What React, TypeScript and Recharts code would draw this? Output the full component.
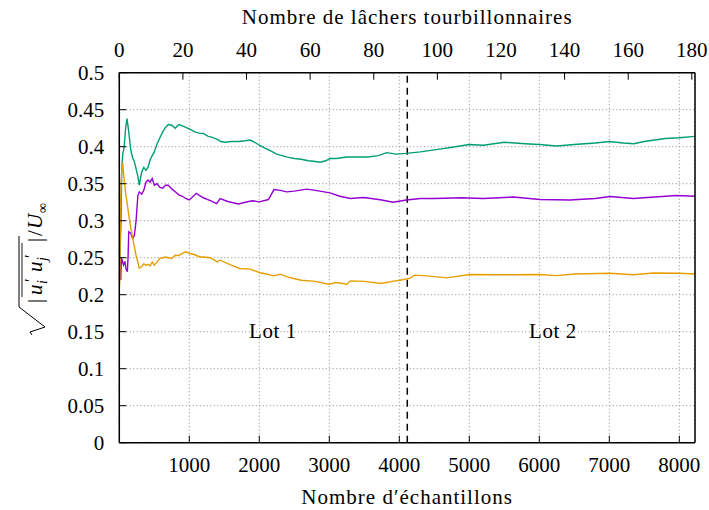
import React from 'react';
import {
  LineChart,
  Line,
  XAxis,
  YAxis,
  CartesianGrid,
  ReferenceLine,
  ReferenceDot,
  Label,
} from 'recharts';

const FONT = '"Liberation Serif", "Times New Roman", "DejaVu Serif", serif';

// sample index (bottom axis) and running rms value for each component
const greenSamples = [0, 15, 25, 35, 50, 70, 90, 110, 135, 165, 190, 215, 240, 265, 285, 320, 350, 380, 410, 440, 470, 500, 540, 580, 620, 660, 700, 750, 800, 850, 900, 950, 1000, 1080, 1150, 1200, 1270, 1320, 1400, 1450, 1510, 1600, 1700, 1800, 1870, 1950, 2000, 2080, 2150, 2250, 2400, 2500, 2600, 2700, 2800, 2870, 2950, 3010, 3100, 3250, 3400, 3550, 3700, 3820, 3950, 4100, 4300, 4600, 4800, 5000, 5200, 5500, 5800, 6000, 6250, 6500, 6800, 7000, 7200, 7350, 7500, 7650, 7800, 8000, 8224];
const greenValues = [0.23, 0.27, 0.3, 0.37, 0.39, 0.4, 0.425, 0.438, 0.42, 0.395, 0.385, 0.38, 0.37, 0.36, 0.348, 0.366, 0.372, 0.368, 0.372, 0.382, 0.388, 0.393, 0.404, 0.412, 0.42, 0.426, 0.43, 0.429, 0.425, 0.43, 0.428, 0.426, 0.424, 0.42, 0.418, 0.418, 0.414, 0.413, 0.41, 0.407, 0.406, 0.407, 0.407, 0.408, 0.409, 0.405, 0.402, 0.398, 0.395, 0.39, 0.386, 0.384, 0.383, 0.381, 0.38, 0.379, 0.381, 0.384, 0.384, 0.386, 0.386, 0.386, 0.388, 0.392, 0.39, 0.391, 0.393, 0.397, 0.4, 0.403, 0.402, 0.406, 0.404, 0.403, 0.401, 0.403, 0.405, 0.407, 0.405, 0.404, 0.407, 0.409, 0.411, 0.412, 0.414];

const purpleSamples = [0, 10, 20, 30, 45, 60, 80, 95, 115, 125, 135, 165, 190, 215, 240, 265, 285, 320, 350, 380, 410, 440, 470, 500, 540, 580, 620, 660, 700, 750, 800, 850, 900, 950, 1000, 1100, 1200, 1300, 1390, 1440, 1550, 1700, 1800, 1900, 2000, 2130, 2210, 2300, 2390, 2500, 2680, 2800, 3010, 3150, 3300, 3490, 3600, 3750, 3910, 4100, 4300, 4500, 4890, 5200, 5630, 6010, 6440, 6800, 7010, 7340, 7650, 7960, 8224];
const purpleValues = [0.25, 0.24, 0.22, 0.25, 0.245, 0.24, 0.245, 0.235, 0.231, 0.25, 0.285, 0.283, 0.276, 0.28, 0.3, 0.334, 0.339, 0.336, 0.341, 0.352, 0.355, 0.352, 0.357, 0.348, 0.35, 0.345, 0.344, 0.348, 0.348, 0.343, 0.339, 0.335, 0.333, 0.33, 0.328, 0.337, 0.331, 0.327, 0.323, 0.33, 0.326, 0.3225, 0.325, 0.327, 0.3255, 0.3286, 0.342, 0.341, 0.339, 0.34, 0.3426, 0.341, 0.3376, 0.333, 0.33, 0.3313, 0.33, 0.328, 0.325, 0.328, 0.33, 0.33, 0.331, 0.33, 0.332, 0.3286, 0.328, 0.33, 0.3327, 0.33, 0.332, 0.334, 0.333];

const orangeSamples = [0, 8, 15, 25, 40, 50, 60, 70, 90, 110, 135, 165, 190, 215, 240, 265, 285, 320, 350, 380, 410, 440, 470, 500, 540, 580, 620, 660, 700, 750, 800, 850, 900, 950, 1000, 1080, 1150, 1200, 1300, 1400, 1440, 1600, 1720, 1870, 2000, 2100, 2200, 2300, 2400, 2490, 2600, 2800, 2990, 3100, 3250, 3300, 3500, 3740, 3900, 4010, 4150, 4220, 4400, 4680, 5000, 5500, 6000, 6250, 6500, 7010, 7340, 7630, 8000, 8224];
const orangeValues = [0.21, 0.22, 0.3, 0.35, 0.375, 0.378, 0.365, 0.355, 0.338, 0.325, 0.308, 0.29, 0.277, 0.265, 0.253, 0.244, 0.236, 0.238, 0.242, 0.24, 0.241, 0.239, 0.244, 0.24, 0.2443, 0.249, 0.25, 0.251, 0.25, 0.249, 0.2534, 0.253, 0.2557, 0.2579, 0.256, 0.254, 0.251, 0.251, 0.25, 0.2443, 0.2466, 0.24, 0.2354, 0.2345, 0.23, 0.228, 0.2255, 0.2277, 0.224, 0.2219, 0.2196, 0.218, 0.2142, 0.2165, 0.2142, 0.2187, 0.218, 0.2151, 0.218, 0.2196, 0.222, 0.2264, 0.2255, 0.2227, 0.2273, 0.227, 0.2273, 0.2258, 0.228, 0.229, 0.227, 0.2293, 0.229, 0.228];

const yTicks = [0, 0.05, 0.1, 0.15, 0.2, 0.25, 0.3, 0.35, 0.4, 0.45, 0.5];
const bottomTicks = [1000, 2000, 3000, 4000, 5000, 6000, 7000, 8000];
const topTicks = [0, 20, 40, 60, 80, 100, 120, 140, 160, 180];

const SAMPLE_MAX = 8224;
const SHEDDING_MAX = 181;
const SPLIT = 4114;

const zip = (s: number[], v: number[]) => s.map((x, i) => ({ s: x, v: v[i] }));
const greenData = zip(greenSamples, greenValues);
const purpleData = zip(purpleSamples, purpleValues);
const orangeData = zip(orangeSamples, orangeValues);

const TICK = 7;
const FS = 21;
const MID_X = 407.15;

const BottomTick = (p: any) => (
  <g>
    <line x1={p.x} x2={p.x} y1={p.y - 29} y2={p.y - 29 - TICK} stroke="#000" />
    <text x={p.x} y={p.y} textAnchor="middle" fontSize={FS} fill="#000">
      {p.payload.value}
    </text>
  </g>
);

const TopTick = (p: any) => (
  <g>
    <line x1={p.x} x2={p.x} y1={p.y + 15.4} y2={p.y + 15.4 + TICK} stroke="#000" />
    <text x={p.x} y={p.y} textAnchor="middle" fontSize={FS} fill="#000">
      {p.payload.value}
    </text>
  </g>
);

const LeftTick = (p: any) => (
  <g>
    <line x1={p.x + 15} x2={p.x + 15 + TICK} y1={p.y} y2={p.y} stroke="#000" />
    <text x={p.x} y={p.y + 7} textAnchor="end" fontSize={FS} fill="#000">
      {p.payload.value}
    </text>
  </g>
);

const RightTick = (p: any) => (
  <line x1={p.x} x2={p.x - TICK} y1={p.y} y2={p.y} stroke="#000" />
);

const titleProps = { fontSize: FS, fill: '#000', textAnchor: 'middle' as const, letterSpacing: 1 };

const YTitle = () => (
  <g transform="translate(42,335) rotate(-90)" fill="#000">
    <path d="M0,-10 L3,-12 L8,3 L28,-23 L99,-23" fill="none" stroke="#000" strokeWidth={1} />
    <text x={32} y={0} fontSize={FS}>|</text>
    <line x1={38} x2={92} y1={-20} y2={-20} stroke="#000" strokeWidth={0.9} />
    <text x={40} y={0} fontSize={FS} fontStyle="italic">u</text>
    <text x={51} y={5} fontSize={14} fontStyle="italic">i</text>
    <text x={53} y={-6} fontSize={17}>′</text>
    <text x={63} y={0} fontSize={FS} fontStyle="italic">u</text>
    <text x={74} y={5} fontSize={14} fontStyle="italic">j</text>
    <text x={77} y={-6} fontSize={17}>′</text>
    <text x={93} y={0} fontSize={FS}>|</text>
    <text x={99} y={0} fontSize={FS}>/</text>
    <text x={106} y={0} fontSize={FS} fontStyle="italic">U</text>
    <text x={122} y={5} fontSize={14}>∞</text>
  </g>
);

const LotLabel = (text: string) => (props: any) => {
  const vb = props.viewBox || {};
  return (
    <text
      x={vb.x + (vb.width || 0) / 2}
      y={vb.y + (vb.height || 0) / 2 + 6}
      {...titleProps}
      letterSpacing={0.6}
    >
      {text}
    </text>
  );
};

const axisLine = { stroke: '#000', strokeWidth: 1.5 };

const pageCss = `html, body { margin: 0; padding: 0; overflow: hidden; }
.chart-root svg text { font-family: ${FONT} !important; }`;

export default function App() {
  return (
    <div className="chart-root" style={{ width: 709, height: 510 }}>
      <style>{pageCss}</style>
      <LineChart
        width={709}
        height={510}
        margin={{ top: 32.7, right: 4, bottom: 27.3, left: 0 }}
      >
        <CartesianGrid
          xAxisId="b"
          yAxisId="l"
          stroke="#8a8a8a"
          strokeDasharray="1 2.5"
          strokeWidth={1}
        />
        <XAxis
          xAxisId="b"
          type="number"
          dataKey="s"
          domain={[0, SAMPLE_MAX]}
          ticks={bottomTicks}
          interval={0}
          allowDataOverflow
          height={40}
          tickSize={0}
          tickMargin={29}
          tickLine={false}
          tick={BottomTick}
          axisLine={axisLine}
        >
          <Label content={() => <text x={MID_X} y={504} {...titleProps}>Nombre d′échantillons</text>} />
        </XAxis>
        <XAxis
          xAxisId="t"
          orientation="top"
          type="number"
          dataKey="s"
          domain={[0, SHEDDING_MAX]}
          ticks={topTicks}
          interval={0}
          allowDataOverflow
          height={40}
          tickSize={0}
          tickMargin={15.4}
          tickLine={false}
          tick={TopTick}
          axisLine={axisLine}
        >
          <Label content={() => <text x={MID_X} y={23.5} {...titleProps}>Nombre de lâchers tourbillonnaires</text>} />
        </XAxis>
        <YAxis
          yAxisId="l"
          type="number"
          domain={[0, 0.5]}
          ticks={yTicks}
          interval={0}
          width={119.3}
          tickSize={0}
          tickMargin={15}
          tickLine={false}
          tick={LeftTick}
          axisLine={axisLine}
        >
          <Label content={() => <YTitle />} />
        </YAxis>
        <YAxis
          yAxisId="r"
          orientation="right"
          type="number"
          domain={[0, 0.5]}
          ticks={yTicks}
          interval={0}
          width={10}
          tickSize={0}
          tickMargin={0}
          tickLine={false}
          tick={RightTick}
          axisLine={axisLine}
        />
        <ReferenceLine
          xAxisId="b"
          yAxisId="l"
          x={SPLIT}
          stroke="#000"
          strokeWidth={1.5}
          strokeDasharray="7 5"
        />
        <ReferenceDot xAxisId="b" yAxisId="l" x={2196} y={0.15} r={0} fill="none" stroke="none">
          <Label content={LotLabel('Lot 1')} />
        </ReferenceDot>
        <ReferenceDot xAxisId="b" yAxisId="l" x={6196} y={0.15} r={0} fill="none" stroke="none">
          <Label content={LotLabel('Lot 2')} />
        </ReferenceDot>
        <Line
          xAxisId="b"
          yAxisId="l"
          data={greenData}
          dataKey="v"
          type="linear"
          stroke="#009e73"
          strokeWidth={1.4}
          dot={false}
          isAnimationActive={false}
        />
        <Line
          xAxisId="b"
          yAxisId="l"
          data={purpleData}
          dataKey="v"
          type="linear"
          stroke="#9400d3"
          strokeWidth={1.4}
          dot={false}
          isAnimationActive={false}
        />
        <Line
          xAxisId="b"
          yAxisId="l"
          data={orangeData}
          dataKey="v"
          type="linear"
          stroke="#e69f00"
          strokeWidth={1.4}
          dot={false}
          isAnimationActive={false}
        />
      </LineChart>
    </div>
  );
}
